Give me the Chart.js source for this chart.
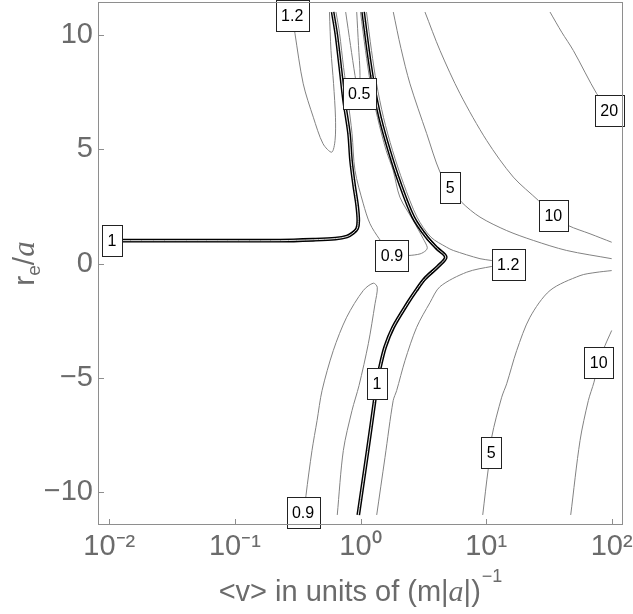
<!DOCTYPE html>
<html><head><meta charset="utf-8">
<script src="https://cdn.jsdelivr.net/npm/chart.js@4.4.1/dist/chart.umd.min.js"></script>
<style>html,body{margin:0;padding:0;background:#fff;}canvas{display:block;}</style>
</head><body>
<canvas id="c" width="633" height="614"></canvas>
<script>
// ---- axes ----
const xTickValues = [0.01, 0.1, 1, 10, 100];
const xTickLabels = ['10\u207B\u00B2', '10\u207B\u00B9', '10\u2070', '10\u00B9', '10\u00B2'];
const yTickValues = [-10, -5, 0, 5, 10];
const yTickLabels = ['\u221210', '\u22125', '0', '5', '10'];
const xRange = [0.008128, 123.03];
const yRange = [-11.44, 11.44];

// ---- contour lines, points [x, y] ----
const level1Left = [[0.01,1.0],[0.05,1.0],[0.23,1.0],[0.42,1.04],[0.63,1.09],[0.78,1.18],[0.87,1.33],[0.94,1.53],[0.96,1.88],[0.94,2.54],[0.89,3.41],[0.84,4.51],[0.81,5.69],[0.74,7.13],[0.69,8.58],[0.64,10.07],[0.60,11.0]];
const level1Right = [[1.05,11.0],[1.15,9.32],[1.26,7.88],[1.43,6.39],[1.69,4.95],[2.06,3.50],[2.63,2.03],[3.37,1.15],[4.07,0.66],[4.77,0.28],[4.14,-0.13],[3.26,-0.66],[2.77,-1.18],[2.39,-1.71],[1.82,-2.79],[1.57,-3.66],[1.43,-4.54],[1.35,-5.25],[1.29,-6.08],[1.14,-8.18],[0.96,-11.0]];
const level05 = [[0.762,11.0],[0.833,9.54],[0.904,8.23],[0.964,7.35],[0.991,8.23],[0.964,9.54],[0.933,11.0]];
const level09Mid = [[0.638,11.0],[0.681,10.07],[0.733,8.58],[0.795,7.13],[0.856,5.69],[0.904,4.07],[1.053,2.61],[1.19,1.74],[1.41,1.08],[1.78,0.36],[2.40,0.35],[2.98,0.42],[3.32,0.57],[3.40,0.71],[3.16,1.08],[2.63,1.88],[2.06,2.90],[1.82,4.07],[1.60,4.95],[1.365,6.39],[1.20,7.88],[1.096,9.32],[1.0,11.0]];
const level09Low = [[0.356,-11.0],[0.368,-10.15],[0.411,-8.18],[0.451,-6.87],[0.494,-5.56],[0.607,-3.81],[0.776,-2.35],[1.053,-1.18],[1.265,-0.86],[1.36,-1.04],[1.305,-1.76],[1.154,-3.51],[0.973,-5.34],[0.856,-6.43],[0.730,-8.18],[0.653,-11.0]];
const level12Top = [[0.285,11.0],[0.301,10.05],[0.350,7.86],[0.421,6.40],[0.503,5.24],[0.590,4.87],[0.627,5.38],[0.632,6.40],[0.610,7.88],[0.582,9.32],[0.566,11.0]];
const level12Right = [[1.116,11.0],[1.223,9.32],[1.341,7.88],[1.5245,6.39],[1.798,4.95],[2.199,3.50],[2.818,2.03],[3.642,1.15],[4.858,0.71],[5.48,0.57],[8.94,0.21],[11.08,0.13],[15.0,-0.04],[11.08,-0.13],[7.01,-0.38],[4.30,-1.01],[3.575,-1.71],[2.80,-2.79],[2.26,-4.25],[1.94,-5.56],[1.82,-6.00],[1.567,-8.48],[1.346,-11.0]];
const level5Upper = [[1.824,11.0],[2.10,9.41],[2.478,7.86],[3.366,5.68],[4.295,4.00],[5.19,3.33],[6.39,2.68],[8.94,2.03],[14.59,1.44],[23.76,1.01],[43.83,0.57],[100,0.21]];
const level5Lower = [[100,-0.31],[75.0,-0.39],[55.95,-0.53],[32.28,-1.18],[22.36,-2.35],[17.52,-3.81],[14.59,-5.26],[13.31,-5.85],[11.08,-7.60],[11.0,-8.28],[10.41,-8.98],[9.40,-11.0]];
const level10Upper = [[3.262,11.0],[4.295,9.32],[6.197,7.43],[10.11,5.38],[16.47,3.78],[26.04,2.76],[34.28,2.10],[45.14,1.66],[67.2,1.30],[100,0.93]];
const level10Lower = [[100,-2.93],[88.45,-3.59],[78.8,-4.32],[72.3,-5.19],[65.14,-6.00],[55.95,-7.75],[47.17,-11.0]];
const level20 = [[32.28,11.0],[40.0,10.12],[49.47,9.32],[75.96,7.43],[95.5,6.70],[100,6.4]];

// ---- contour labels ----
const labelText = ['1','1.2','0.5','0.9','1.2','5','10','20','0.9','1','5','10'];
const labelX = [0.0105, 0.286, 0.976, 1.78, 15.0, 5.19, 34.28, 95.5, 0.3485, 1.353, 11.0, 78.8];
const labelY = [1.0, 10.83, 7.45, 0.36, -0.04, 3.33, 2.10, 6.70, -10.88, -5.24, -8.28, -4.32];

// ---- axis titles ----
const xTitleParts = ['<v> in units of (m|', 'a', '|)', '\u22121'];
const yTitleParts = ['r', 'e', '/', 'a'];

const pts = a => a.map(p => ({x: p[0], y: p[1]}));
const thin = d => ({data: pts(d), showLine: true, pointRadius: 0, borderColor: '#828282', borderWidth: 1, tension: 0.3, order: 3});
const thickOuter = d => ({data: pts(d), showLine: true, pointRadius: 0, borderColor: '#000', borderWidth: 3.8, tension: 0.3, order: 2});
const thickInner = d => ({data: pts(d), showLine: true, pointRadius: 0, borderColor: '#e6e6e6', borderWidth: 1.0, tension: 0.3, order: 1});

const SANS = '"Liberation Sans", Arial, sans-serif';
const SERIF = '"Liberation Serif", "Times New Roman", serif';
const GREY = '#6b6b6b';

const decor = {
  id: 'decor',
  afterDatasetsDraw(chart) {
    const {ctx, chartArea: a, scales: {x, y}} = chart;
    ctx.save();
    ctx.font = '16px ' + SANS;
    ctx.textAlign = 'center';
    ctx.textBaseline = 'middle';
    for (let i = 0; i < labelText.length; i++) {
      const px = x.getPixelForValue(labelX[i]);
      const py = y.getPixelForValue(labelY[i]);
      const w = Math.round(ctx.measureText(labelText[i]).width + 11);
      const h = 31;
      const lx = Math.round(px - w / 2) + 0.5, ly = Math.round(py - h / 2) + 0.5;
      ctx.fillStyle = '#fff';
      ctx.fillRect(lx, ly, w, h);
      ctx.strokeStyle = '#222';
      ctx.lineWidth = 1;
      ctx.strokeRect(lx, ly, w, h);
      ctx.fillStyle = '#000';
      ctx.fillText(labelText[i], px, py + 1);
    }
    ctx.restore();
  },
  afterDraw(chart) {
    const {ctx, chartArea: a, scales: {x, y}} = chart;
    ctx.save();
    ctx.strokeStyle = '#8e8e8e';
    ctx.lineWidth = 1;
    ctx.strokeRect(Math.round(a.left) + 0.5, Math.round(a.top) + 0.5, Math.round(a.right - a.left) - 1, Math.round(a.bottom - a.top) - 1);
    ctx.beginPath();
    xTickValues.forEach(v => {
      const px = Math.round(x.getPixelForValue(v)) + 0.5;
      ctx.moveTo(px, a.bottom); ctx.lineTo(px, a.bottom - 6);
    });
    yTickValues.forEach(v => {
      const py = Math.round(y.getPixelForValue(v)) + 0.5;
      ctx.moveTo(a.left, py); ctx.lineTo(a.left + 6, py);
    });
    ctx.stroke();

    // x title
    ctx.fillStyle = GREY;
    ctx.textBaseline = 'alphabetic';
    ctx.textAlign = 'left';
    const fMain = '29px ' + SANS, fIt = 'italic 30px ' + SERIF, fSup = '18px ' + SANS;
    ctx.font = fMain; const w1 = ctx.measureText(xTitleParts[0]).width; const w3 = ctx.measureText(xTitleParts[2]).width;
    ctx.font = fIt; const w2 = ctx.measureText(xTitleParts[1]).width;
    ctx.font = fSup; const w4 = ctx.measureText(xTitleParts[3]).width;
    const tot = w1 + w2 + w3 + w4 + 1;
    let cx = (a.left + a.right) / 2 - tot / 2;
    const by = 601;
    ctx.font = fMain; ctx.fillText(xTitleParts[0], cx, by); cx += w1;
    ctx.font = fIt; ctx.fillText(xTitleParts[1], cx, by); cx += w2;
    ctx.font = fMain; ctx.fillText(xTitleParts[2], cx, by); cx += w3 + 1;
    ctx.font = fSup; ctx.fillText(xTitleParts[3], cx, by - 19);

    // y title (rotated)
    ctx.translate(34, (a.top + a.bottom) / 2);
    ctx.rotate(-Math.PI / 2);
    const fr = '30px ' + SANS, fe = '19px ' + SANS, fa = 'italic 31px ' + SERIF;
    ctx.font = fr; const r1 = ctx.measureText(yTitleParts[0]).width; const r3 = ctx.measureText(yTitleParts[2]).width;
    ctx.font = fe; const r2 = ctx.measureText(yTitleParts[1]).width;
    ctx.font = fa; const r4 = ctx.measureText(yTitleParts[3]).width;
    let tx = -(r1 + r2 + r3 + r4) / 2;
    ctx.font = fr; ctx.fillText(yTitleParts[0], tx, 0); tx += r1;
    ctx.font = fe; ctx.fillText(yTitleParts[1], tx, 6); tx += r2;
    ctx.font = fr; ctx.fillText(yTitleParts[2], tx, 0); tx += r3;
    ctx.font = fa; ctx.fillText(yTitleParts[3], tx, 0);
    ctx.restore();
  }
};

new Chart(document.getElementById('c'), {
  type: 'scatter',
  data: {
    datasets: [
      thin(level05), thin(level09Mid), thin(level09Low), thin(level12Top), thin(level12Right),
      thin(level5Upper), thin(level5Lower), thin(level10Upper), thin(level10Lower), thin(level20),
      thickOuter(level1Left), thickOuter(level1Right),
      thickInner(level1Left), thickInner(level1Right)
    ]
  },
  options: {
    responsive: false,
    animation: false,
    devicePixelRatio: 1,
    layout: {padding: {left: 0, right: 10, top: 2, bottom: 0}},
    plugins: {legend: {display: false}, tooltip: {enabled: false}},
    scales: {
      x: {
        type: 'logarithmic', min: xRange[0], max: xRange[1],
        afterBuildTicks: s => { s.ticks = xTickValues.map(v => ({value: v})); },
        afterFit: s => { s.height = 89; s.paddingLeft = 0; s.paddingRight = 0; },
        grid: {display: false, drawTicks: false},
        border: {display: false},
        ticks: {callback: (v, i) => xTickLabels[i], font: {family: SANS, size: 29}, color: GREY, padding: 5, maxRotation: 0, autoSkip: false}
      },
      y: {
        type: 'linear', min: yRange[0], max: yRange[1],
        afterBuildTicks: s => { s.ticks = yTickValues.map(v => ({value: v})); },
        afterFit: s => { s.width = 98; s.paddingTop = 0; s.paddingBottom = 0; },
        grid: {display: false, drawTicks: false},
        border: {display: false},
        ticks: {callback: (v, i) => yTickLabels[i], font: {family: SANS, size: 29}, color: GREY, padding: 5, autoSkip: false}
      }
    }
  },
  plugins: [decor]
});
</script>
</body></html>
